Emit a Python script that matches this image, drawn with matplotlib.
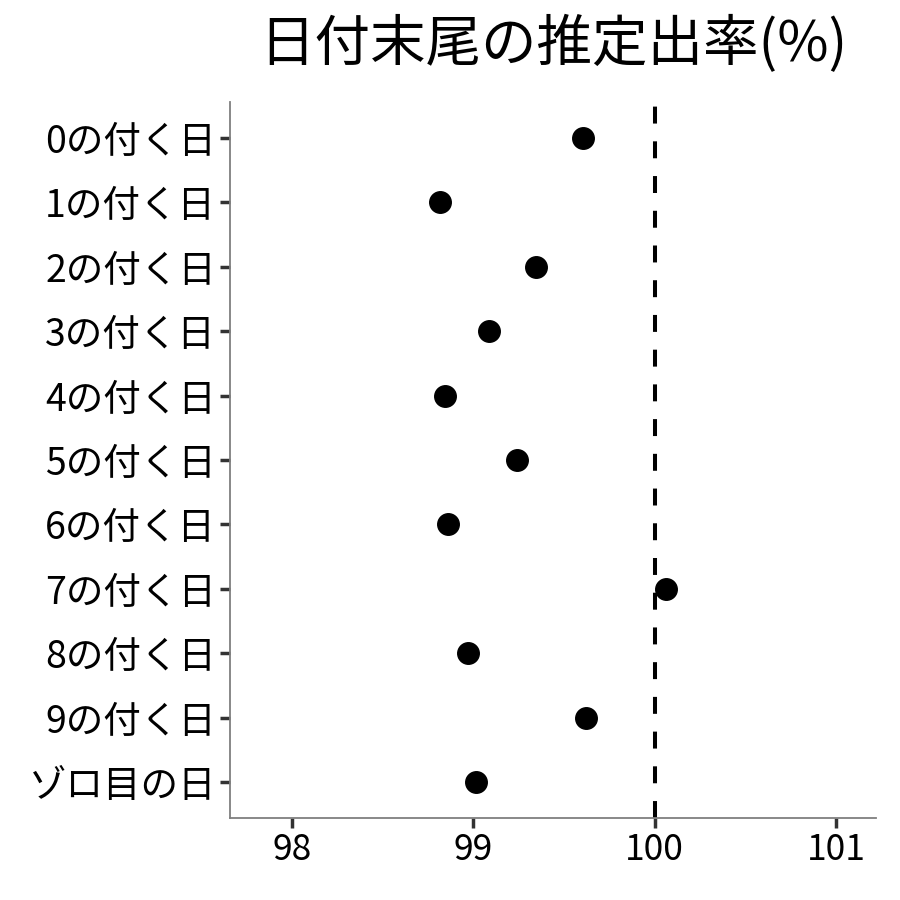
import matplotlib
matplotlib.use('Agg')
import matplotlib.pyplot as plt

plt.rcParams['font.family'] = ['Noto Sans CJK JP', 'DejaVu Sans']
plt.rcParams['lines.scale_dashes'] = False

# 日付末尾ごとの推定出率(%)
labels = ['0の付く日', '1の付く日', '2の付く日', '3の付く日', '4の付く日',
          '5の付く日', '6の付く日', '7の付く日', '8の付く日', '9の付く日', 'ゾロ目の日']
rates = [99.605, 98.816, 99.346, 99.087, 98.844, 99.241, 98.860, 100.063, 98.971, 99.622, 99.015]
ref_line = 100
xticks = [98, 99, 100, 101]

fig = plt.figure(figsize=(9, 9), dpi=100)
ax = fig.add_axes([230/900, 82/900, 646/900, 716/900])

ypos = list(range(len(labels)))
ax.plot(rates, ypos, 'o', color='black', markersize=15.5, linestyle='none', zorder=3)
ax.axvline(ref_line, color='black', linewidth=2.9, dashes=(12.2, 12.8), zorder=2)

ax.set_xlim(97.658, 101.221)
ax.set_ylim(len(labels) - 1 + 0.56, -0.56)
ax.set_xticks(xticks)
ax.set_xticklabels([str(t) for t in xticks])
ax.set_yticks(ypos)
ax.set_yticklabels(labels)

for s in ['top', 'right']:
    ax.spines[s].set_visible(False)
for s in ['left', 'bottom']:
    ax.spines[s].set_color('#7f7f7f')
    ax.spines[s].set_linewidth(1.3)
ax.tick_params(axis='both', colors='#333333', length=7, width=2.5,
               labelcolor='black', pad=3)
ax.tick_params(axis='y', labelsize=27)
ax.tick_params(axis='x', labelsize=25.5)

fig.text(553/900, 1 - 45/900, '日付末尾の推定出率(%)', ha='center', va='center', fontsize=40)

fig.savefig('out.png', dpi=100)
